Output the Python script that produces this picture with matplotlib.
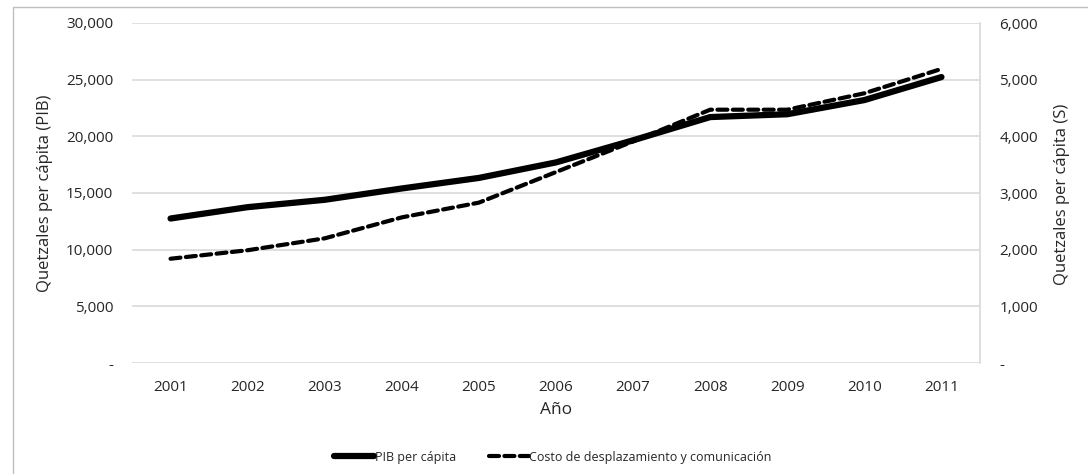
import matplotlib
matplotlib.use("Agg")
import matplotlib.pyplot as plt
from matplotlib.ticker import FuncFormatter
from matplotlib.patches import Rectangle
from matplotlib.lines import Line2D

years = ["2001", "2002", "2003", "2004", "2005", "2006", "2007", "2008", "2009", "2010", "2011"]
pib = [12750, 13750, 14400, 15400, 16330, 17700, 19650, 21700, 21950, 23200, 25230]
costo = [1840, 1990, 2200, 2570, 2830, 3370, 3910, 4470, 4470, 4760, 5190]
left_ticks = [0, 5000, 10000, 15000, 20000, 25000, 30000]
right_ticks = [0, 1000, 2000, 3000, 4000, 5000, 6000]

plt.rcParams['font.family'] = ['Open Sans', 'DejaVu Sans']
W, H = 1088, 474
fig = plt.figure(figsize=(W / 100, H / 100), dpi=100)
ax = fig.add_axes([132 / W, 1 - 363 / H, (980 - 132) / W, (363 - 23) / H])
ax2 = ax.twinx()

x = list(range(len(years)))
grey = "#d9d9d9"
tc = "#262626"

ax.set_ylim(0, 30000)
ax2.set_ylim(0, 6000)
ax.set_xlim(-0.5, len(years) - 0.5)
ax.set_yticks(left_ticks)
ax2.set_yticks(right_ticks)
fmt = FuncFormatter(lambda v, p: "-" if v == 0 else f"{int(v):,}")
ax.yaxis.set_major_formatter(fmt)
ax2.yaxis.set_major_formatter(fmt)
ax.set_xticks(x)
ax.set_xticklabels(years)
ax.grid(axis='y', color=grey, linewidth=1.2)
ax.set_axisbelow(True)
for a in (ax, ax2):
    for s in a.spines.values():
        s.set_visible(False)
    a.tick_params(length=0, labelsize=11, labelcolor=tc)
ax2.spines['right'].set_visible(True)
ax2.spines['right'].set_color(grey)
ax2.spines['right'].set_linewidth(1.2)
ax.tick_params(axis='y', pad=13.5)
ax2.tick_params(axis='y', pad=14)
ax.tick_params(axis='x', pad=12)

ax.plot(x, pib, color='black', linewidth=4.5, solid_capstyle='round', solid_joinstyle='round', zorder=3)
ax2.plot(x, costo, color='black', linewidth=3, linestyle=(0, (2.4, 1.3)), dash_capstyle='round', zorder=3)

ax.set_ylabel("Quetzales per cápita (PIB)", fontsize=12, color=tc)
ax2.set_ylabel("Quetzales per cápita (S)", fontsize=12, color=tc)
ax.set_xlabel("Año", fontsize=12.5, color=tc, labelpad=5)

leg_handles = [
    Line2D([0], [0], color='black', linewidth=4.5, solid_capstyle='round'),
    Line2D([0], [0], color='black', linewidth=3, linestyle=(0, (2.4, 1.3)), dash_capstyle='round'),
]
fig.legend(leg_handles, ["PIB per cápita", "Costo de desplazamiento y comunicación"],
           loc='center', bbox_to_anchor=(553 / W, 1 - 457 / H), ncol=2, frameon=False,
           fontsize=9, handlelength=3.2, handletextpad=0.05, columnspacing=2.6,
           labelcolor=tc)

fig.patches.append(Rectangle((13 / W, 0 - 0.02), 1.1, 1 - 7 / H + 0.02, transform=fig.transFigure,
                             fill=False, edgecolor='#bfbfbf', linewidth=1.0))

# place y-labels at the reference's positions
ax.yaxis.set_label_coords(45 / W, 1 - 193 / H, transform=fig.transFigure)
ax2.yaxis.set_label_coords(1062 / W, 1 - 194 / H, transform=fig.transFigure)
ax.yaxis.label.set_va('center')
ax2.yaxis.label.set_va('center')

fig.savefig("out.png", dpi=100)
